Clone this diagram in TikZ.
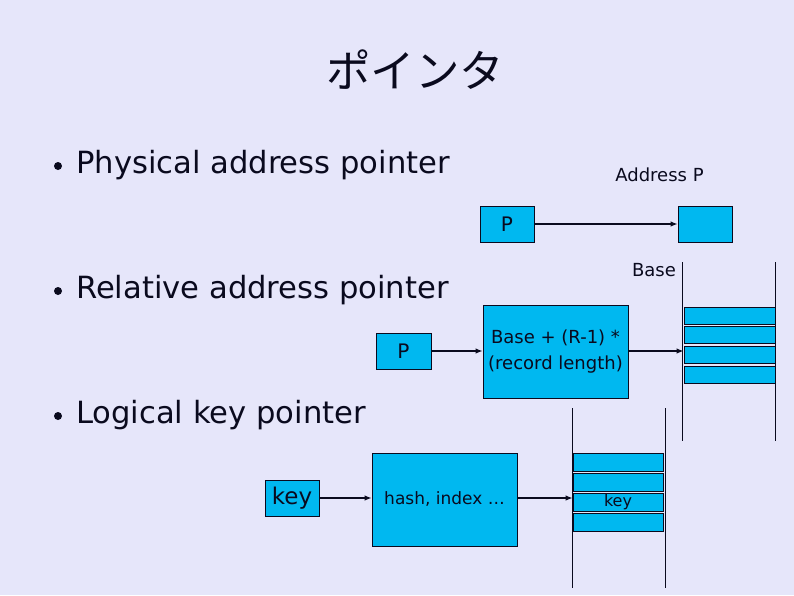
\documentclass[tikz,border=0pt]{standalone}
\usepackage{fontspec}
\setmainfont{DejaVu Sans}
\newfontfamily\cjkfont{Noto Sans CJK JP}
\usetikzlibrary{arrows.meta}
\definecolor{bgcol}{RGB}{230,230,250}
\definecolor{boxblue}{RGB}{0,184,240}
\definecolor{inkcol}{RGB}{10,10,30}
\tikzset{
  box/.style={draw=inkcol, fill=boxblue, line width=0.8pt, inner sep=0pt, text=inkcol},
  conn/.style={-{Latex[length=7pt,width=5.5pt]}, line width=1.2pt, draw=inkcol},
  bullettext/.style={anchor=base west, font=\fontsize{30.6}{36}\selectfont, text=inkcol, inner sep=0pt},
  smalltext/.style={font=\fontsize{18}{21}\selectfont, text=inkcol, inner sep=0pt},
  rail/.style={line width=1pt, draw=inkcol},
  bul/.style={circle, fill=inkcol, inner sep=0pt, minimum size=8pt}
}
\begin{document}
\begin{tikzpicture}[x=1pt,y=-1pt]
\fill[bgcol] (0,0) rectangle (794,595);
\useasboundingbox (0,0) rectangle (794,595);

% title
\node[font=\cjkfont\fontsize{44.5}{50}\selectfont, text=inkcol] (title) at (415,70) {ポインタ};

% bullets
\node[bul] (b1) at (58,166) {};
\node[bul] (b2) at (58,291) {};
\node[bul] (b3) at (58,416) {};
\node[bullettext] (t1) at (76,173) {Physical address pointer};
\node[bullettext] (t2) at (76,298) {Relative address pointer};
\node[bullettext] (t3) at (76,423) {Logical key pointer};

% physical
\node[smalltext] (addrP) at (659.5,175) {Address P};
\node[box, minimum width=54pt, minimum height=36pt, font=\fontsize{20}{24}\selectfont] (p1) at (507,224) {P};
\node[box, minimum width=54pt, minimum height=36pt] (tgt) at (705,224) {};
\draw[conn] (p1) -- (tgt);

% relative
\node[smalltext] (base) at (654,270) {Base};
\draw[rail] (682,262) coordinate (r1t) -- (682,441) coordinate (r1b);
\draw[rail] (775,262) coordinate (r2t) -- (775,441) coordinate (r2b);
\node[box, minimum width=91pt, minimum height=17pt] (ra) at (729.5,315.5) {};
\node[box, minimum width=91pt, minimum height=17pt] (rb) at (729.5,334.5) {};
\node[box, minimum width=91pt, minimum height=17pt] (rc) at (729.5,354.5) {};
\node[box, minimum width=91pt, minimum height=17pt] (rd) at (729.5,374.5) {};
\node[box, minimum width=55pt, minimum height=36pt, font=\fontsize{20}{24}\selectfont] (p2) at (403.5,351) {P};
\node[box, minimum width=145pt, minimum height=93pt, font=\fontsize{18}{26}\selectfont, align=center] (calc) at (555.5,351.5) {Base + (R-1) *\\(record length)};
\draw[conn] (p2) -- (calc.west |- p2);
\draw[conn] (calc.east |- p2) -- (ra.west |- p2);

% logical
\draw[rail] (572,408) coordinate (l1t) -- (572,588) coordinate (l1b);
\draw[rail] (665,408) coordinate (l2t) -- (665,588) coordinate (l2b);
\node[box, minimum width=90pt, minimum height=18pt] (ka) at (618,462) {};
\node[box, minimum width=90pt, minimum height=18pt] (kb) at (618,482) {};
\node[box, minimum width=90pt, minimum height=18pt, font=\fontsize{16}{19}\selectfont] (kc) at (618,502) {key};
\node[box, minimum width=90pt, minimum height=18pt] (kd) at (618,522) {};
\node[box, minimum width=54pt, minimum height=36pt, font=\fontsize{23}{27}\selectfont] (key) at (292,498) {key};
\node[box, minimum width=145pt, minimum height=93pt, font=\fontsize{17}{20}\selectfont] (hash) at (444.5,499.5) {hash, index …};
\draw[conn] (key) -- (hash.west |- key);
\draw[conn] (hash.east |- key) -- (kc.west |- key);
\end{tikzpicture}
\end{document}
